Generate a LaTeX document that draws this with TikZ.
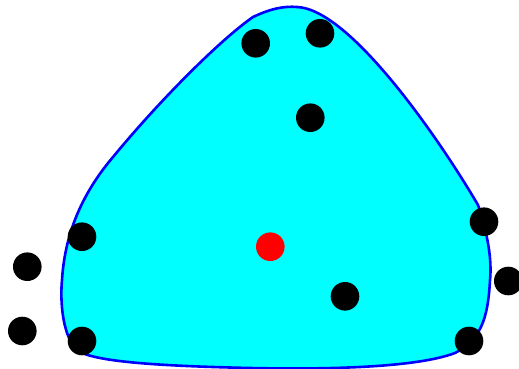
\documentclass[tikz,border=0pt]{standalone}
\definecolor{cyanfill}{RGB}{0,255,255}
\definecolor{blueline}{RGB}{0,0,255}
\definecolor{reddotc}{RGB}{255,0,0}
\begin{document}
\begin{tikzpicture}[x=1pt,y=-1pt,
  dot/.style={circle,fill=black,inner sep=0pt,minimum size=28.6pt},
  reddot/.style={circle,fill=reddotc,inner sep=0pt,minimum size=28.6pt}]
\clip (0,0) rectangle (519,369);
\fill[white] (0,0) rectangle (519,369);
\draw[blueline,fill=cyanfill,line width=2.6pt,line join=round]
  (253,17) .. controls (272,8) and (285,6) .. (297,7)
  .. controls (350,9) and (440,140) .. (478,205)
  .. controls (488,235) and (492,260) .. (490,280)
  .. controls (488,320) and (480,340) .. (455,353)
  .. controls (410,370) and (300,369) .. (250,368)
  .. controls (160,366) and (100,362) .. (80,352)
  .. controls (62,340) and (60,300) .. (62,280)
  .. controls (65,230) and (85,190) .. (113,157)
  .. controls (160,100) and (220,40) .. (253,17) -- cycle;
\node[dot] (d1) at (255.7,43.3) {};
\node[dot] (d2) at (320,33.3) {};
\node[dot] (d3) at (310.3,117.7) {};
\node[dot] (d4) at (82,236.7) {};
\node[dot] (d5) at (27.3,266.7) {};
\node[dot] (d6) at (22.3,331) {};
\node[dot] (d7) at (82,341) {};
\node[dot] (d8) at (345,296.3) {};
\node[dot] (d9) at (484,221.7) {};
\node[dot] (d10) at (508.3,281) {};
\node[dot] (d11) at (469,341) {};
\node[reddot] (r) at (270.3,246.7) {};
\end{tikzpicture}
\end{document}
